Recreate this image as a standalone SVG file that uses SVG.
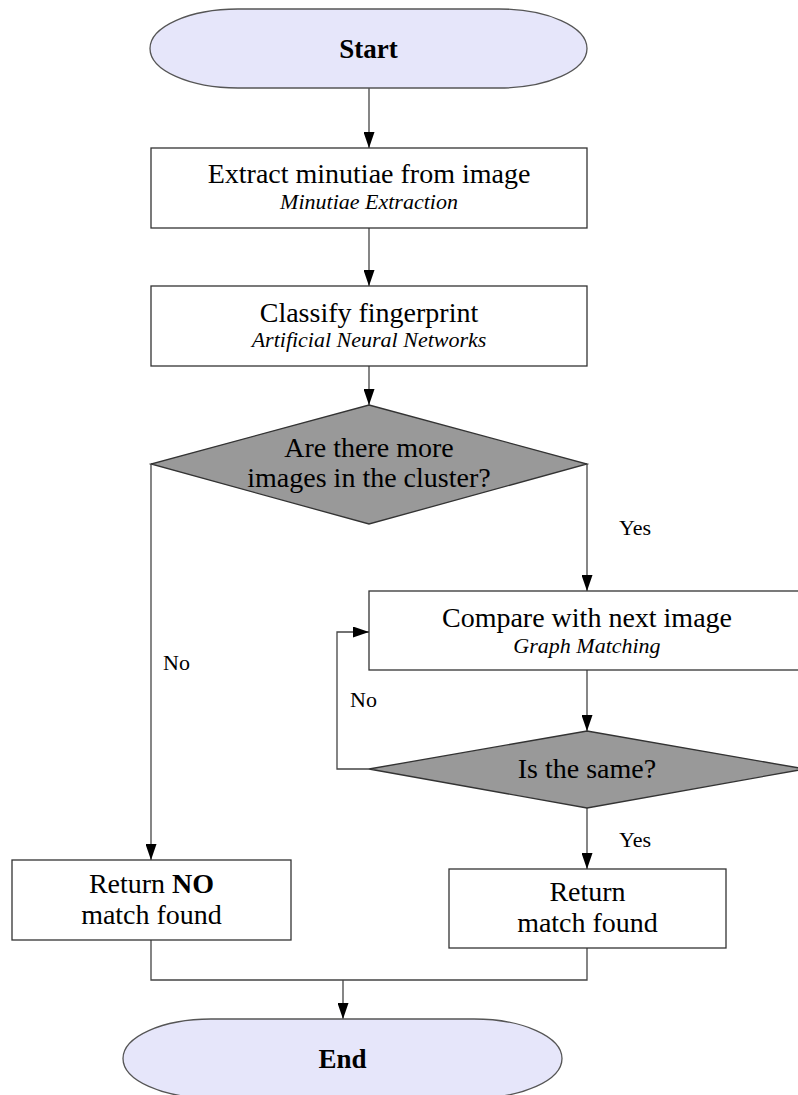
<svg xmlns="http://www.w3.org/2000/svg" width="798" height="1095" viewBox="0 0 798 1095">
<style>
  .term { fill: #e6e6fa; stroke: #555555; stroke-width: 1.3; }
  .box { fill: #ffffff; stroke: #333333; stroke-width: 1.3; }
  .dec { fill: #999999; stroke: #333333; stroke-width: 1.3; }
  .edge { fill: none; stroke: #444444; stroke-width: 1.3; }
  text { font-family: "Liberation Serif", serif; fill: #000000; text-anchor: middle; }
  .main { font-size: 28px; }
  .sub { font-size: 22px; font-style: italic; }
  .bold { font-size: 27px; font-weight: bold; }
  .lbl { font-size: 22px; text-anchor: start; }
</style>
<defs>
  <marker id="arr" viewBox="0 0 16 11" refX="16" refY="5.5" markerWidth="16" markerHeight="11" markerUnits="userSpaceOnUse" orient="auto">
    <path d="M0,0 L16,5.5 L0,11 z" fill="#000000"/>
  </marker>
</defs>
<rect width="798" height="1095" fill="#ffffff"/>
<g id="connectors">
  <line class="edge" x1="369" y1="88" x2="369" y2="148" marker-end="url(#arr)"/>
  <line class="edge" x1="369" y1="228" x2="369" y2="286" marker-end="url(#arr)"/>
  <line class="edge" x1="369" y1="366" x2="369" y2="405" marker-end="url(#arr)"/>
  <polyline class="edge" points="587,464 587,591" marker-end="url(#arr)"/>
  <polyline class="edge" points="151,464 151,860" marker-end="url(#arr)"/>
  <line class="edge" x1="587" y1="670" x2="587" y2="731" marker-end="url(#arr)"/>
  <polyline class="edge" points="369,769 337,769 337,632 369,632" marker-end="url(#arr)"/>
  <line class="edge" x1="587" y1="808" x2="587" y2="869" marker-end="url(#arr)"/>
  <polyline class="edge" points="151,940 151,980 587,980 587,948"/>
  <line class="edge" x1="343" y1="980" x2="343" y2="1019" marker-end="url(#arr)"/>
  <text class="lbl" x="619" y="535">Yes</text>
  <text class="lbl" x="163" y="670">No</text>
  <text class="lbl" x="350" y="707">No</text>
  <text class="lbl" x="619" y="847">Yes</text>
</g>
<g id="start">
  <rect class="term" x="150" y="9" width="437" height="79" rx="88" ry="39.5"/>
  <text class="bold" x="368.5" y="58">Start</text>
</g>
<g id="extract">
  <rect class="box" x="151" y="148" width="436" height="80"/>
  <text class="main" x="369" y="183">Extract minutiae from image</text>
  <text class="sub" x="369" y="209">Minutiae Extraction</text>
</g>
<g id="classify">
  <rect class="box" x="151" y="286" width="436" height="80"/>
  <text class="main" x="369" y="322">Classify fingerprint</text>
  <text class="sub" x="369" y="347">Artificial Neural Networks</text>
</g>
<g id="more-images">
  <polygon class="dec" points="369,405 587,464 369,524 151,464"/>
  <text class="main" x="369" y="457">Are there more</text>
  <text class="main" x="369" y="487">images in the cluster?</text>
</g>
<g id="compare">
  <rect class="box" x="369" y="591" width="436" height="79"/>
  <text class="main" x="587" y="627">Compare with next image</text>
  <text class="sub" x="587" y="653">Graph Matching</text>
</g>
<g id="same">
  <polygon class="dec" points="587,731 805,769 587,808 369,769"/>
  <text class="main" x="587" y="778">Is the same?</text>
</g>
<g id="no-match">
  <rect class="box" x="12" y="860" width="279" height="80"/>
  <text class="main" x="151.5" y="893">Return <tspan font-weight="bold">NO</tspan></text>
  <text class="main" x="151.5" y="924">match found</text>
</g>
<g id="match">
  <rect class="box" x="449" y="869" width="277" height="79"/>
  <text class="main" x="587.5" y="901">Return</text>
  <text class="main" x="587.5" y="932">match found</text>
</g>
<g id="end">
  <rect class="term" x="123" y="1019" width="439" height="79" rx="88" ry="39.5"/>
  <text class="bold" x="342.5" y="1068">End</text>
</g>
</svg>
